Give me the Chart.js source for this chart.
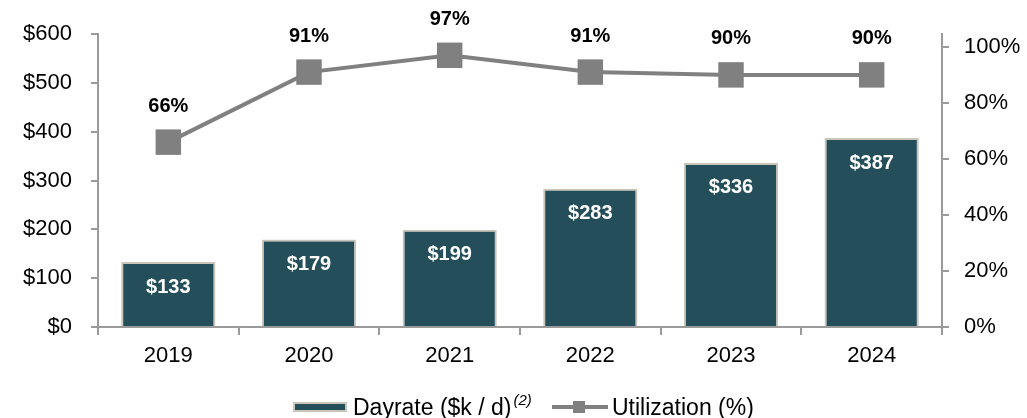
<!DOCTYPE html>
<html>
<head>
<meta charset="utf-8">
<script src="https://cdn.jsdelivr.net/npm/chart.js@4/dist/chart.umd.min.js"></script>
<style>
  html, body { margin: 0; background: #fff; overflow: hidden; font-family: "Liberation Sans", Arial, sans-serif; }
  #wrap { position: relative; width: 1027px; height: 418px; overflow: hidden; }
  #myChart { display: block; }
  .legText { position: absolute; top: 394px; font-size: 23px; line-height: 26px; color: #000; white-space: nowrap; }
  .legText sup { font-style: italic; font-size: 15px; line-height: 0; vertical-align: baseline; position: relative; top: -10px; margin-left: 2px; }
  .barSwatch { position: absolute; left: 293px; top: 402px; width: 50px; height: 6px; background: #234E5A; border: 2px solid #C9C5B9; }
  .lineSwatch { position: absolute; left: 552px; top: 405px; width: 56px; height: 4px; background: #808080; }
  .lineSq { position: absolute; left: 573px; top: 401px; width: 12px; height: 12px; background: #808080; }
</style>
</head>
<body>
<div id="wrap">
  <canvas id="myChart" width="1027" height="418"></canvas>
  <div class="barSwatch"></div>
  <div class="legText" style="left:353px">Dayrate ($k / d)<sup>(2)</sup></div>
  <div class="lineSwatch"></div>
  <div class="lineSq"></div>
  <div class="legText" style="left:612px">Utilization (%)</div>
</div>
<script>
// chart data
const years = ['2019', '2020', '2021', '2022', '2023', '2024'];
const dayrate = [133, 179, 199, 283, 336, 387];
const utilization = [66, 91, 97, 91, 90, 90];
const leftTicks = [0, 100, 200, 300, 400, 500, 600];
const rightTicks = [0, 20, 40, 60, 80, 100];

const axisColor = '#9a9a9a';
const tickFont = { size: 22, family: '"Liberation Sans", Arial' };

// draws the value labels on bars and points
const valueLabels = {
  id: 'valueLabels',
  afterDatasetsDraw(chart) {
    const ctx = chart.ctx;
    ctx.save();
    ctx.textAlign = 'center';
    ctx.textBaseline = 'middle';
    ctx.font = 'bold 20px "Liberation Sans", Arial, sans-serif';

    const barMeta = chart.getDatasetMeta(0);
    ctx.fillStyle = '#ffffff';
    barMeta.data.forEach((bar, i) => {
      ctx.fillText('$' + dayrate[i], bar.x, bar.y + 25);
    });

    const lineMeta = chart.getDatasetMeta(1);
    ctx.fillStyle = '#000000';
    lineMeta.data.forEach((pt, i) => {
      ctx.fillText(utilization[i] + '%', pt.x, pt.y - 36);
    });
    ctx.restore();
  }
};

const ctx = document.getElementById('myChart').getContext('2d');
const myChart = new Chart(ctx, {
  type: 'bar',
  data: {
    labels: years,
    datasets: [
      {
        label: 'Dayrate ($k / d)',
        data: dayrate,
        backgroundColor: '#234E5A',
        borderColor: '#C9C5B9',
        borderWidth: 2,
        borderSkipped: 'bottom',
        categoryPercentage: 0.67,
        barPercentage: 1,
        yAxisID: 'y',
        order: 2
      },
      {
        type: 'line',
        label: 'Utilization (%)',
        data: utilization,
        borderColor: '#808080',
        backgroundColor: '#808080',
        borderWidth: 4,
        pointStyle: 'rect',
        pointRadius: 18,
        pointHoverRadius: 18,
        pointBorderWidth: 0,
        tension: 0,
        yAxisID: 'y1',
        order: 1
      }
    ]
  },
  options: {
    responsive: false,
    animation: false,
    layout: { padding: { top: 34, left: 0, right: 0, bottom: 0 } },
    plugins: {
      legend: { display: false },
      tooltip: { enabled: false }
    },
    scales: {
      x: {
        grid: { offset: true, drawOnChartArea: false, color: axisColor, tickLength: 8, lineWidth: 2 },
        border: { color: axisColor, width: 2 },
        ticks: { color: '#000', font: tickFont, padding: 8 },
        afterFit(scale) { scale.height = 91; }
      },
      y: {
        position: 'left',
        min: 0,
        max: 600,
        afterBuildTicks(scale) { scale.ticks = leftTicks.map(v => ({ value: v })); },
        grid: { drawOnChartArea: false, color: axisColor, tickLength: 7, lineWidth: 2 },
        border: { color: axisColor, width: 2 },
        ticks: { color: '#000', font: tickFont, padding: 19, callback: v => '$' + v },
        afterFit(scale) { scale.width = 98; }
      },
      y1: {
        position: 'right',
        min: 0,
        max: 104.6,
        afterBuildTicks(scale) { scale.ticks = rightTicks.map(v => ({ value: v })); },
        grid: { drawOnChartArea: false, color: axisColor, tickLength: 7, lineWidth: 2 },
        border: { color: axisColor, width: 2 },
        ticks: { color: '#000', font: tickFont, padding: 15, callback: v => v + '%' },
        afterFit(scale) { scale.width = 85; }
      }
    }
  },
  plugins: [valueLabels]
});
</script>
</body>
</html>
